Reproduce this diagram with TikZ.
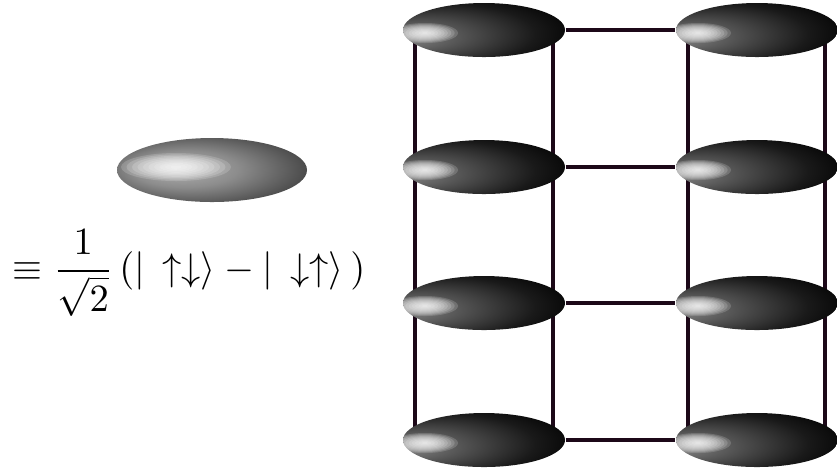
\documentclass[tikz,border=0pt]{standalone}
\usepackage{amsmath}
\usetikzlibrary{shapes.geometric, backgrounds}

% Shadings for the dimer blobs (dark body, highlight is added on top)
\pgfdeclareradialshading{dimerlat}{\pgfpoint{-28bp}{-8bp}}{%
	color(0bp)=(black!45); color(14bp)=(black!68);
	color(28bp)=(black!90); color(38bp)=(black); color(50bp)=(black)}
\pgfdeclareradialshading{dimersingle}{\pgfpoint{-10bp}{1bp}}{%
	color(0bp)=(black!30); color(14bp)=(black!45);
	color(30bp)=(black!72); color(44bp)=(black!95); color(50bp)=(black)}

\definecolor{bondcol}{RGB}{28,8,24}

\begin{document}
\begin{tikzpicture}[
		x=0.1mm, y=-0.1mm,
		% Lattice dimer (fixed size)
		dimer/.style={
				ellipse, draw=none, inner sep=0pt, shading=dimerlat,
				minimum width=16.2mm, minimum height=5.4mm,
				path picture={\foreach \k in {1,...,10}
						\fill[white, fill opacity=0.16]
						([xshift=-5.9mm, yshift=-0.3mm]path picture bounding box.center)
						ellipse ({\k*0.33mm} and {\k*0.1mm});}
			},
		% Lone dimer next to the formula
		dimerbig/.style={
				ellipse, draw=none, inner sep=0pt, shading=dimersingle,
				minimum width=19mm, minimum height=6.4mm,
				path picture={\foreach \k in {1,...,10}
						\fill[white, fill opacity=0.16]
						([xshift=-3.6mm, yshift=0.3mm]path picture bounding box.center)
						ellipse ({\k*0.55mm} and {\k*0.14mm});}
			},
		% Bonds
		rung/.style={draw=bondcol, line width=0.4mm},
		leg/.style={draw=bondcol, line width=0.4mm}
	]

	\useasboundingbox (0,0) rectangle (837,469);

	% ==========================================
	% 1. SINGLE DIMER AND ITS DEFINITION
	% ==========================================

	\node[dimerbig] (single) at (212, 170) {};
	\node[inner sep=0pt, font=\fontsize{11}{13}\selectfont] (formula) at (189, 273)
	{$\displaystyle \equiv \frac{1}{\sqrt{2}}\,(|\,\uparrow\downarrow\rangle - |\,\downarrow\uparrow\rangle\,)$};


	% ==========================================
	% 2. LADDER OF DIMERS (2 COLUMNS, 4 ROWS)
	% ==========================================

	% Left column (X=484)
	\node[dimer] (a1) at (484, 30) {};
	\node[dimer] (a2) at (484, 167) {};
	\node[dimer] (a3) at (484, 303) {};
	\node[dimer] (a4) at (484, 440) {};

	% Right column (X=757)
	\node[dimer] (b1) at (757, 30) {};
	\node[dimer] (b2) at (757, 167) {};
	\node[dimer] (b3) at (757, 303) {};
	\node[dimer] (b4) at (757, 440) {};


	% ==========================================
	% 3. BONDS (BEHIND THE DIMERS)
	% ==========================================

	\begin{pgfonlayer}{background}
		% Vertical legs, two per column
		\draw[leg] ([xshift=-6.9mm]a1.center) -- ([xshift=-6.9mm]a4.center);
		\draw[leg] ([xshift=6.9mm]a1.center) -- ([xshift=6.9mm]a4.center);
		\draw[leg] ([xshift=-6.9mm]b1.center) -- ([xshift=-6.9mm]b4.center);
		\draw[leg] ([xshift=6.8mm]b1.center) -- ([xshift=6.8mm]b4.center);

		% Horizontal rungs between the columns
		\draw[rung] (a1.east) -- (b1.west);
		\draw[rung] (a2.east) -- (b2.west);
		\draw[rung] (a3.east) -- (b3.west);
		\draw[rung] (a4.east) -- (b4.west);
	\end{pgfonlayer}

\end{tikzpicture}
\end{document}
